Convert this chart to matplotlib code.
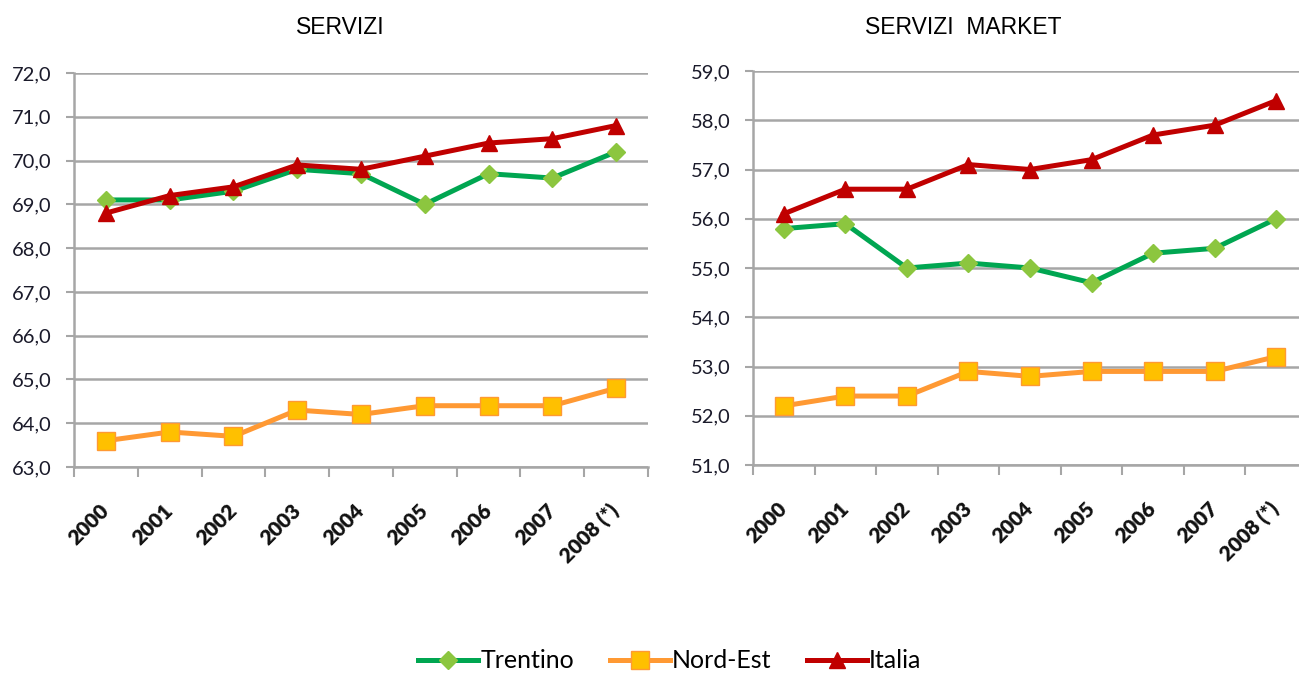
import matplotlib
matplotlib.use("Agg")
import matplotlib.pyplot as plt
import matplotlib.transforms as mtransforms
from matplotlib.ticker import FuncFormatter, FixedLocator
from matplotlib.lines import Line2D

years = ["2000", "2001", "2002", "2003", "2004", "2005", "2006", "2007", "2008 (*)"]

servizi_trentino = [69.1, 69.1, 69.3, 69.8, 69.7, 69.0, 69.7, 69.6, 70.2]
servizi_nordest = [63.6, 63.8, 63.7, 64.3, 64.2, 64.4, 64.4, 64.4, 64.8]
servizi_italia = [68.8, 69.2, 69.4, 69.9, 69.8, 70.1, 70.4, 70.5, 70.8]

market_trentino = [55.8, 55.9, 55.0, 55.1, 55.0, 54.7, 55.3, 55.4, 56.0]
market_nordest = [52.2, 52.4, 52.4, 52.9, 52.8, 52.9, 52.9, 52.9, 53.2]
market_italia = [56.1, 56.6, 56.6, 57.1, 57.0, 57.2, 57.7, 57.9, 58.4]

titles = ["SERVIZI", "SERVIZI  MARKET"]
series_names = ["Trentino", "Nord-Est", "Italia"]

GREEN = "#00a651"
GREEN_FILL = "#8cc63f"
ORANGE = "#ff9933"
ORANGE_FILL = "#ffc000"
RED = "#c00000"
GRID = "#a6a6a6"
LW = 3.6

styles = [
    dict(color=GREEN, marker="D", markerfacecolor=GREEN_FILL, markeredgecolor=GREEN_FILL, markersize=9),
    dict(color=ORANGE, marker="s", markerfacecolor=ORANGE_FILL, markeredgecolor=ORANGE, markersize=13),
    dict(color=RED, marker="^", markerfacecolor=RED, markeredgecolor=RED, markersize=12),
]

W, H = 1299, 674
fig = plt.figure(figsize=(W / 100, H / 100), dpi=100)

def px_axes(x0, x1, ytop, ybot):
    return fig.add_axes([x0 / W, 1 - ybot / H, (x1 - x0) / W, (ybot - ytop) / H])

ax1 = px_axes(74, 648, 73, 467)
ax2 = px_axes(753, 1307, 71, 465)

panels = [
    (ax1, [servizi_trentino, servizi_nordest, servizi_italia], (63, 72)),
    (ax2, [market_trentino, market_nordest, market_italia], (51, 59)),
]

fmt = FuncFormatter(lambda v, p: f"{v:.1f}".replace(".", ","))
x = list(range(len(years)))

for (ax, data, (lo, hi)), title in zip(panels, titles):
    for vals, st in zip(data, styles):
        ax.plot(x, vals, linewidth=LW, zorder=3, clip_on=False, **st)
    ax.set_xlim(-0.5, len(years) - 0.5)
    ax.set_ylim(lo, hi)
    ax.set_yticks(range(lo, hi + 1))
    ax.yaxis.set_major_formatter(fmt)
    ax.grid(axis="y", color=GRID, linewidth=1.8, zorder=0)
    ax.set_axisbelow(True)
    for s in ["top", "right"]:
        ax.spines[s].set_visible(False)
    for s in ["left", "bottom"]:
        ax.spines[s].set_color(GRID)
        ax.spines[s].set_linewidth(1.8)
    # x ticks at category boundaries, labels at centers
    ax.xaxis.set_major_locator(FixedLocator([i - 0.5 for i in range(len(years) + 1)]))
    ax.tick_params(axis="x", which="major", length=7, width=1.5, color=GRID, labelbottom=False)
    ax.set_xticks(x, years, minor=True)
    ax.tick_params(axis="x", which="minor", length=0, pad=24)
    offset = mtransforms.ScaledTranslation(7 / 100, 0, fig.dpi_scale_trans)
    for lab in ax.get_xticklabels(minor=True):
        lab.set_rotation(45)
        lab.set_ha("right")
        lab.set_va("top")
        lab.set_fontfamily("Lato")
        lab.set_fontweight("heavy")
        lab.set_fontsize(15)
        lab.set_color("#111111")
        lab.set_transform(lab.get_transform() + offset)
    ax.tick_params(axis="y", length=6, width=1.5, color=GRID, pad=10, labelsize=14.5, labelcolor="#1a1a2a")
    for lab in ax.get_yticklabels():
        lab.set_fontfamily("Lato")

fig.text(340 / W, 1 - 27 / H, titles[0], ha="center", va="center", fontsize=16.5, family="Liberation Sans")
fig.text(963 / W, 1 - 27 / H, titles[1], ha="center", va="center", fontsize=16.5, family="Liberation Sans")

handles = [Line2D([], [], linewidth=LW, **st) for st in styles]
leg = fig.legend(handles, series_names, loc="center", bbox_to_anchor=(670 / W, 1 - 661 / H),
                 ncol=3, frameon=False, handlelength=2.4, handletextpad=0.1, columnspacing=1.4,
                 prop={"family": "Lato", "size": 18})

fig.savefig("out.png", dpi=100)
